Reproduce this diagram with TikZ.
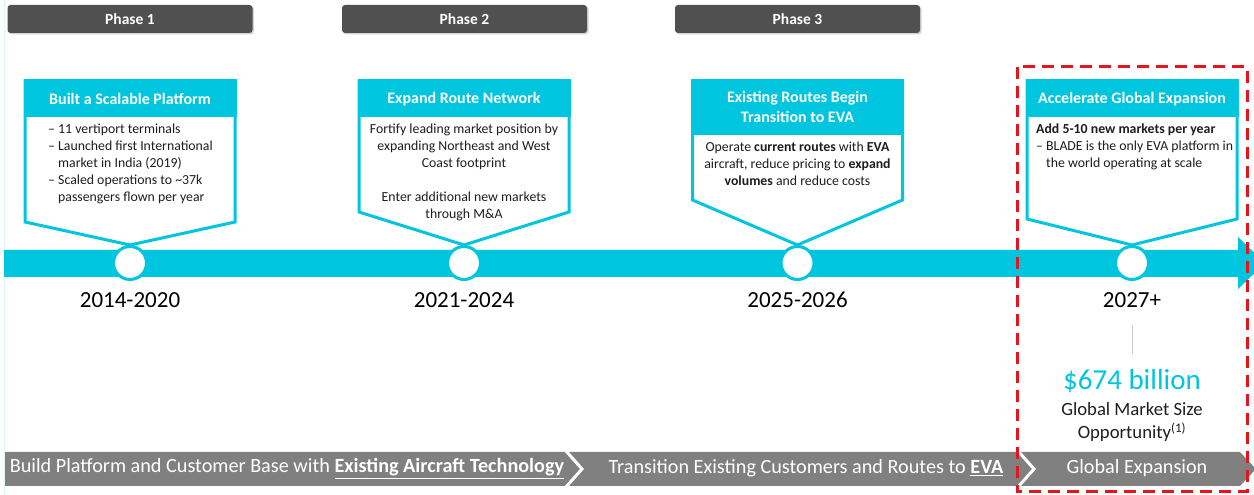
\documentclass[tikz,border=0pt]{standalone}
\usepackage{fontspec}
\setmainfont{Carlito}
\usepackage{xcolor}
\usetikzlibrary{positioning, shadows}

\definecolor{bladecyan}{RGB}{0,197,222}
\definecolor{tabgray}{RGB}{80,80,80}
\definecolor{bandgray}{RGB}{128,128,128}
\definecolor{txtgray}{RGB}{30,30,30}
\definecolor{dashred}{RGB}{232,20,28}

\tikzset{
  phasetab/.style={fill=tabgray, rounded corners=3pt, minimum width=245pt, minimum height=28pt,
    text=white, font=\fontsize{15.5}{17}\selectfont\bfseries,
    drop shadow={opacity=0.35, shadow xshift=1.5pt, shadow yshift=-1.5pt}},
  headtxt/.style={text=white, font=\fontsize{16}{20}\selectfont\bfseries, align=center},
  bodytxt/.style={text=txtgray, font=\fontsize{13.8}{17}\selectfont, inner sep=0pt},
  calloutline/.style={draw=bladecyan, line width=3pt, line join=miter, fill=white},
  mile/.style={circle, draw=bladecyan, line width=3pt, fill=white, minimum size=33pt, inner sep=0pt},
  yeartxt/.style={font=\fontsize{23}{26}\selectfont, inner sep=2pt},
  bandtxt/.style={text=white, font=\fontsize{20.2}{22}\selectfont, inner sep=0pt},
}

\begin{document}
\begin{tikzpicture}[x=1pt, y=1pt, node distance=37pt, on grid]
\useasboundingbox (0,0) rectangle (1254,495);
\clip (0,0) rectangle (1254,495);

% 左端の細線
\draw[bladecyan!15, line width=1pt] (4.5,0) -- (4.5,495);

% フェーズ見出し
\node[phasetab] (P1) at (130,476) {Phase 1};
\node[phasetab] (P2) at (464.5,476) {Phase 2};
\node[phasetab] (P3) at (797.5,476) {Phase 3};

% タイムライン
\fill[bladecyan] (4,245) -- (1238,245) -- (1238,258) -- (1265,232)
  -- (1238,206) -- (1238,218) -- (4,218) -- cycle;

% 吹き出し枠
\foreach \cx/\hb/\sb in {130/378/273, 464/378/283, 797.5/360/295, 1132/378/276} {
  \draw[calloutline] (\cx-105,414) -- (\cx-105,\sb) -- (\cx,250) -- (\cx+105,\sb)
    -- (\cx+105,414) -- cycle;
  \fill[bladecyan] (\cx-105,414) rectangle (\cx+105,\hb);
  \draw[bladecyan, line width=3pt, line join=miter] (\cx-105,\hb) -- (\cx-105,414)
    -- (\cx+105,414) -- (\cx+105,\hb);
}

% 吹き出し見出し
\node[headtxt] (H1) at (130,396) {Built a Scalable Platform};
\node[headtxt] (H2) at (464,396) {Expand Route Network};
\node[headtxt] (H3) at (797.5,388) {Existing Routes Begin\\Transition to EVA};
\node[headtxt] (H4) at (1132,396) {Accelerate Global Expansion};

% 吹き出し本文
\node[bodytxt, align=left, anchor=west] (B1) at (48,331)
  {– 11 vertiport terminals\\– Launched first International\\\hphantom{– }market in India (2019)\\– Scaled operations to \textasciitilde37k\\\hphantom{– }passengers flown per year};
\node[bodytxt, align=center] (B2) at (464,322.5)
  {Fortify leading market position by\\expanding Northeast and West\\Coast footprint\\[17pt]Enter additional new markets\\through M\&A};
\node[bodytxt, align=center] (B3) at (797.5,331)
  {Operate \textbf{current routes} with \textbf{EVA}\\aircraft, reduce pricing to \textbf{expand}\\\textbf{volumes} and reduce costs};
\node[bodytxt, align=left, anchor=west] (B4) at (1036,348)
  {\textbf{Add 5-10 new markets per year}\\– BLADE is the only EVA platform in\\\hphantom{– }the world operating at scale};

% マイルストーン
\node[mile] (C1) at (130,232) {};
\node[mile] (C2) at (464,232) {};
\node[mile] (C3) at (797.5,232) {};
\node[mile] (C4) at (1132,232) {};

\node[yeartxt] (Y1) [below=of C1] {2014-2020};
\node[yeartxt] (Y2) [below=of C2] {2021-2024};
\node[yeartxt] (Y3) [below=of C3] {2025-2026};
\node[yeartxt] (Y4) [below=of C4] {2027+};

% 市場規模
\node[text=bladecyan, font=\fontsize{29}{32}\selectfont, inner sep=2pt] (Mkt) at (1132,114) {\$674 billion};
\node[bodytxt, font=\fontsize{18.7}{23}\selectfont, align=center] (MktSub) at (1132,72.5)
  {Global Market Size\\Opportunity\textsuperscript{(1)}};
\draw[black!20, line width=1pt, shorten <=15pt, shorten >=13pt] (Y4.south) -- (Mkt.north);

% 下段バンド
\fill[bandgray] (5,43) -- (1240,43) -- (1256,26) -- (1240,9) -- (5,9) -- cycle;
\foreach \bx in {566, 1018}
  \draw[white, line width=3pt, line join=miter] (\bx,44) -- (\bx+16,26) -- (\bx,8);

\node[bandtxt] (S1) at (287,26.5) {Build Platform and Customer Base with \underline{\textbf{Existing Aircraft Technology}}};
\node[bandtxt] (S2) at (806,26.5) {Transition Existing Customers and Routes to \underline{\textbf{EVA}}};
\node[bandtxt] (S3) at (1137,26.5) {Global Expansion};

% 赤い破線枠
\draw[dashred, line width=3pt, dash pattern=on 12pt off 7pt] (1017,428) rectangle (1247,3);

\end{tikzpicture}
\end{document}
